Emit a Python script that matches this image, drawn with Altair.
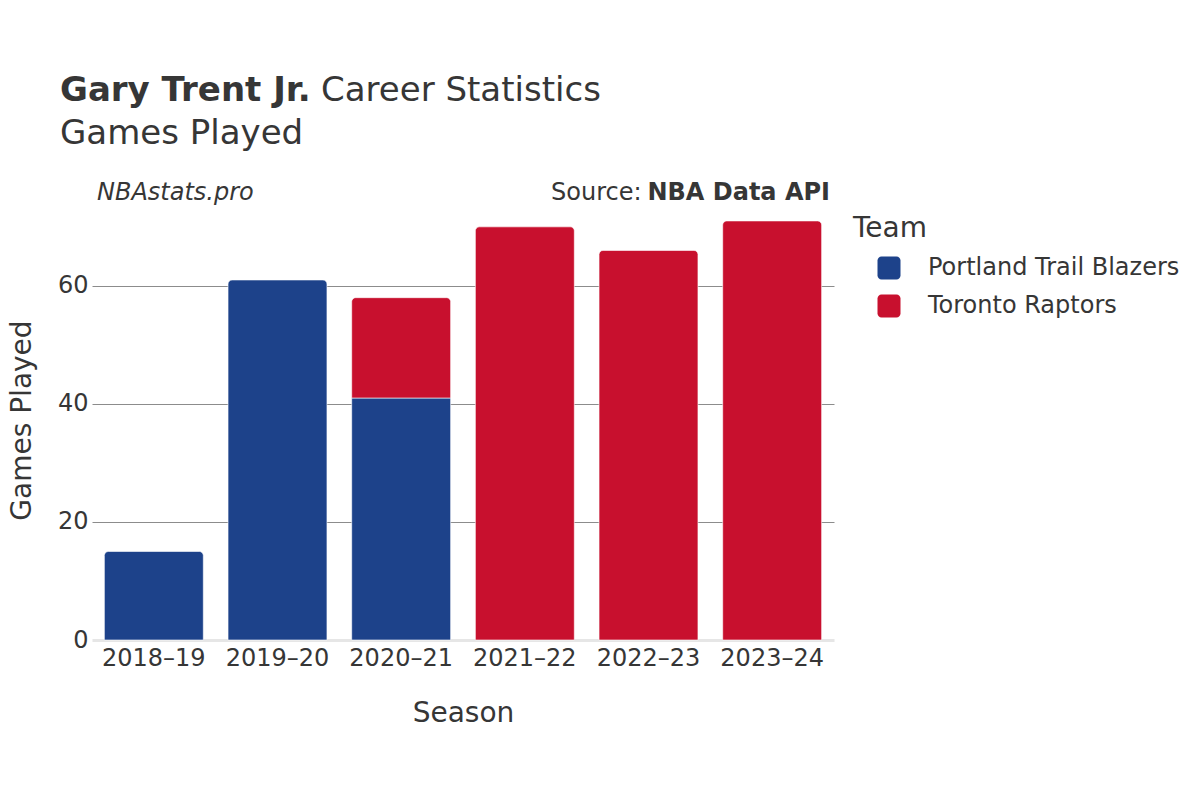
import altair as alt
import pandas as pd

seasons = ["2018–19", "2019–20", "2020–21", "2020–21", "2021–22", "2022–23", "2023–24"]
teams = ["Portland Trail Blazers", "Portland Trail Blazers", "Portland Trail Blazers",
         "Toronto Raptors", "Toronto Raptors", "Toronto Raptors", "Toronto Raptors"]
games = [15, 61, 41, 17, 70, 66, 71]
team_order = [0, 0, 0, 1, 1, 1, 1]
season_order = ["2018–19", "2019–20", "2020–21", "2021–22", "2022–23", "2023–24"]
team_names = ["Portland Trail Blazers", "Toronto Raptors"]
team_colors = ["#1d428a", "#c8102e"]
y_ticks = [0, 20, 40, 60]
y_max = 74.55

df = pd.DataFrame({"Season": seasons, "Team": teams, "Games": games, "TeamOrder": team_order})

W, H = 742, 440
FONT = "DejaVu Sans"
TXT = "#363636"

base = alt.Chart(df).transform_stack(
    stack="Games", groupby=["Season"], as_=["g0", "g1"],
    sort=[alt.SortField("TeamOrder", order="ascending")]
).transform_joinaggregate(top="max(g1)", groupby=["Season"])

x = alt.X("Season:N", sort=season_order,
          scale=alt.Scale(paddingInner=0.2, paddingOuter=0.1),
          axis=alt.Axis(labelAngle=0, labelFontSize=24, labelColor=TXT, labelPadding=6,
                        ticks=False, tickSize=0, domain=False, grid=False,
                        titleFontSize=28, titleFontWeight="normal", titleColor=TXT,
                        titlePadding=29),
          title="Season")
y = alt.Y("g1:Q", scale=alt.Scale(domain=[0, y_max], nice=False, zero=True),
          axis=alt.Axis(values=y_ticks, labelFontSize=24, labelColor=TXT, labelPadding=4,
                        ticks=False, tickSize=0, domain=False, grid=True,
                        gridColor={"condition": {"test": "datum.value === 0", "value": "#e6e6e6"}, "value": "#8c8c8c"},
                        gridWidth={"condition": {"test": "datum.value === 0", "value": 3}, "value": 1},
                        titleFontSize=28, titleFontWeight="normal", titleColor=TXT,
                        titlePadding=21),
          title="Games Played")
y2 = alt.Y2("g0:Q")
color = alt.Color("Team:N", scale=alt.Scale(domain=team_names, range=team_colors),
                  legend=alt.Legend(title="Team", orient="none", legendX=761, legendY=15,
                                    titleFontSize=28, titleFontWeight="normal", titleColor=TXT,
                                    titlePadding=13, labelFontSize=24, labelColor=TXT,
                                    labelLimit=0,
                                    symbolType="M-0.65,-1H0.65A0.35,0.35 0 0 1 1,-0.65V0.65A0.35,0.35 0 0 1 0.65,1H-0.65A0.35,0.35 0 0 1 -1,0.65V-0.65A0.35,0.35 0 0 1 -0.65,-1Z",
                                    symbolSize=529, symbolStrokeWidth=0, symbolOpacity=1,
                                    symbolOffset=24, labelOffset=27, rowPadding=14, padding=0))

top_bars = base.transform_filter("datum.g1 == datum.top").mark_bar(
    cornerRadiusTopLeft=4, cornerRadiusTopRight=4, stroke="white", strokeWidth=0.6, opacity=1
).encode(x=x, y=y, y2=y2, color=color)
inner_bars = base.transform_filter("datum.g1 < datum.top").mark_bar(
    stroke="white", strokeWidth=0.6, opacity=1
).encode(x=x, y=y, y2=y2, color=color)


def txt(s, px, py, size, weight="normal", style="normal", align="left"):
    return alt.Chart(pd.DataFrame({"t": [s]})).mark_text(
        align=align, baseline="alphabetic", fontSize=size, fontWeight=weight,
        fontStyle=style, color=TXT, font=FONT
    ).encode(x=alt.value(px), y=alt.value(py), text="t:N")


texts = [
    txt("Gary Trent Jr.", -32, -99, 34, weight="bold"),
    txt("Career Statistics", 229, -99, 34),
    txt("Games Played", -32, -56, 34),
    txt("NBAstats.pro", 5, 0, 24, style="italic"),
    txt("Source:", 459, 0, 24),
    txt("NBA Data API", 738, 0, 24, weight="bold", align="right"),
]

chart = alt.layer(inner_bars, top_bars, *texts).properties(
    width=W, height=H,
    autosize=alt.AutoSizeParams(type="none"),
    padding={"left": 84, "top": 192, "right": 358, "bottom": 152},
).configure(font=FONT).configure_view(stroke=None)

chart.save("out.html", embed_options={"renderer": "svg", "actions": False})
